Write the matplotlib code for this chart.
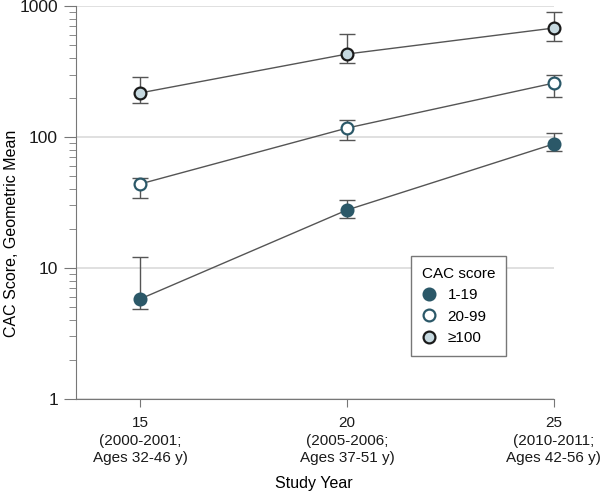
import numpy as np
import matplotlib.pyplot as plt

# study years and tick labels
years = [15, 20, 25]
tick_labels = ["15\n(2000-2001;\nAges 32-46 y)",
               "20\n(2005-2006;\nAges 37-51 y)",
               "25\n(2010-2011;\nAges 42-56 y)"]

# geometric mean CAC score with error limits, per CAC group
mean_low = [5.8, 27.7, 88.5]
lo_low = [4.9, 24.1, 78]
hi_low = [12.1, 33, 107]

mean_mid = [43.8, 117, 258]
lo_mid = [34.2, 95, 202]
hi_mid = [48.6, 135, 297]

mean_high = [217, 430, 679]
lo_high = [182, 367, 541]
hi_high = [287, 611, 900]

groups = ["1-19", "20-99", "\u2265100"]

plt.rcParams["font.family"] = ["Liberation Sans", "DejaVu Sans"]
plt.rcParams["font.size"] = 12

teal = "#2b5868"
gray = "#555555"

fig = plt.figure(figsize=(6, 4.93), dpi=100)
ax = fig.add_axes([0.1267, 0.1907, 0.7963, 0.7971])

styles = [
    (mean_low, lo_low, hi_low, dict(mfc=teal, mec=teal)),
    (mean_mid, lo_mid, hi_mid, dict(mfc="white", mec=teal)),
    (mean_high, lo_high, hi_high, dict(mfc="#c6d9e0", mec="#1a1a1a")),
]

handles = []
for (m, lo, hi, st), name in zip(styles, groups):
    m = np.array(m)
    yerr = [m - np.array(lo), np.array(hi) - m]
    ax.errorbar(years, m, yerr=yerr, fmt="none", ecolor=gray, elinewidth=1,
                capsize=6, capthick=1, clip_on=False, zorder=2)
    ax.plot(years, m, color=gray, lw=1, zorder=3, clip_on=False)
    h, = ax.plot(years, m, "o", ms=8.5, mew=1.6, clip_on=False, zorder=4,
                 linestyle="none", label=name, **st)
    handles.append(h)

ax.set_yscale("log")
ax.set_ylim(1, 1000)
ax.set_xlim(13.45, 25)
ax.set_yticks([1, 10, 100, 1000])
ax.set_yticklabels(["1", "10", "100", "1000"])
ax.set_xticks(years)
ax.set_xticklabels(tick_labels, linespacing=1.35)
ax.yaxis.grid(True, which="major", color="#e0e0e0", lw=1.4)
ax.set_axisbelow(True)

for s in ["top", "right"]:
    ax.spines[s].set_visible(False)
for s in ["left", "bottom"]:
    ax.spines[s].set_color("#777777")
ax.tick_params(axis="both", which="both", colors="#777777", labelcolor="#1a1a1a")
ax.tick_params(axis="y", which="major", length=9, labelsize=12.5, pad=4)
ax.tick_params(axis="y", which="minor", length=5)
ax.tick_params(axis="x", length=6, labelsize=11, pad=6)

ax.set_ylabel("CAC Score, Geometric Mean", fontsize=11.5)
ax.yaxis.set_label_coords(-0.119, 0.422)
ax.set_xlabel("Study Year", fontsize=11.5)
ax.xaxis.set_label_coords(0.498, -0.196)

leg = ax.legend(handles=handles, title="CAC score", loc="upper left",
                bbox_to_anchor=(0.685, 0.481), bbox_transform=fig.transFigure,
                borderaxespad=0, fancybox=False, edgecolor="#777777",
                framealpha=1, fontsize=11, title_fontsize=11,
                handletextpad=0.7, handlelength=1.0, borderpad=0.7,
                labelspacing=0.5)
leg._legend_box.align = "left"
leg.get_frame().set_linewidth(1)

fig.savefig("out.png", dpi=100)
